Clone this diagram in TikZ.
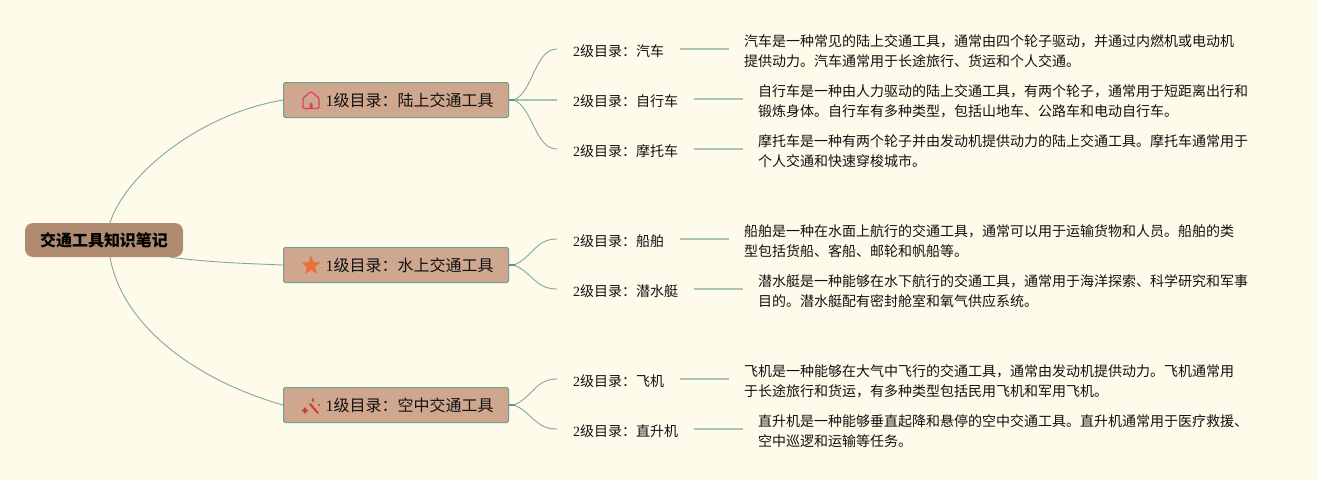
\documentclass[tikz,border=0pt]{standalone}
\usepackage{fontspec}
\usetikzlibrary{calc}
\setmainfont{Liberation Serif}
\newfontfamily\cjk{Noto Sans CJK SC}
\definecolor{bgc}{HTML}{FFFBEA}
\definecolor{rootc}{HTML}{B08B72}
\definecolor{lonec}{HTML}{CFA78E}
\definecolor{edgec}{HTML}{6F9F8B}
\definecolor{linec}{HTML}{7FAB96}
\definecolor{stemc}{HTML}{A9C5B2}
\definecolor{stubc}{HTML}{5F9A88}
\definecolor{txtc}{HTML}{111111}
\definecolor{housec}{HTML}{E0405E}
\definecolor{starc}{HTML}{E9703A}
\definecolor{wandc}{HTML}{D63A2C}
\newcommand{\lone}[1]{\hspace*{27pt}{\fontsize{16}{20}\selectfont 1\cjk 级目录：#1}}
\newcommand{\ltwo}[1]{{\fontsize{14}{20}\selectfont 2\cjk 级目录：#1}}
\tikzset{
  rootbox/.style={draw=none,fill=rootc,rounded corners=8pt,minimum width=158pt,minimum height=34pt,inner sep=0pt,font=\fontsize{16}{20}\selectfont\cjk\bfseries,text=black},
  lonebox/.style={draw=edgec,line width=1pt,fill=lonec,rounded corners=1.5pt,minimum width=225pt,minimum height=35pt,inner xsep=15pt,inner ysep=0pt,anchor=west,text=txtc},
  ltwobox/.style={inner xsep=16pt,inner ysep=0pt,anchor=west,text=txtc},
  descbox/.style={inner xsep=15pt,inner ysep=0pt,anchor=west,align=left,text=txtc,font=\fontsize{14}{20}\selectfont\cjk},
  curve/.style={draw=linec,line width=0.9pt},
  stem/.style={draw=stemc,line width=1.5pt},
  stub/.style={draw=stubc,line width=2pt},
}
\begin{document}
\begin{tikzpicture}[x=1pt,y=-1pt]
\useasboundingbox (0,0) rectangle (1318,480);
\fill[bgc] (0,0) rectangle (1318,480);
% root and level 1
\node[rootbox] (root) at (104,240) {交通工具知识笔记};
\node[lonebox] (a) at (283,100) {\lone{陆上交通工具}};
\node[lonebox] (b) at (283,265) {\lone{水上交通工具}};
\node[lonebox] (c) at (283,405) {\lone{空中交通工具}};
% level 2
\node[ltwobox] (a1) at (557,51) {\ltwo{汽车}};
\node[ltwobox] (a2) at (557,101) {\ltwo{自行车}};
\node[ltwobox] (a3) at (557,151) {\ltwo{摩托车}};
\node[ltwobox] (b1) at (557,241) {\ltwo{船舶}};
\node[ltwobox] (b2) at (557,291) {\ltwo{潜水艇}};
\node[ltwobox] (c1) at (557,381) {\ltwo{飞机}};
\node[ltwobox] (c2) at (557,431) {\ltwo{直升机}};
% descriptions
\node[descbox] (a1d) at (729,51) {汽车是一种常见的陆上交通工具，通常由四个轮子驱动，并通过内燃机或电动机\\提供动力。汽车通常用于长途旅行、货运和个人交通。};
\node[descbox] (a2d) at (743,101) {自行车是一种由人力驱动的陆上交通工具，有两个轮子，通常用于短距离出行和\\锻炼身体。自行车有多种类型，包括山地车、公路车和电动自行车。};
\node[descbox] (a3d) at (743,151) {摩托车是一种有两个轮子并由发动机提供动力的陆上交通工具。摩托车通常用于\\个人交通和快速穿梭城市。};
\node[descbox] (b1d) at (729,241) {船舶是一种在水面上航行的交通工具，通常可以用于运输货物和人员。船舶的类\\型包括货船、客船、邮轮和帆船等。};
\node[descbox] (b2d) at (743,291) {潜水艇是一种能够在水下航行的交通工具，通常用于海洋探索、科学研究和军事\\目的。潜水艇配有密封舱室和氧气供应系统。};
\node[descbox] (c1d) at (729,381) {飞机是一种能够在大气中飞行的交通工具，通常由发动机提供动力。飞机通常用\\于长途旅行和货运，有多种类型包括民用飞机和军用飞机。};
\node[descbox] (c2d) at (743,431) {直升机是一种能够垂直起降和悬停的空中交通工具。直升机通常用于医疗救援、\\空中巡逻和运输等任务。};
% root connectors
\draw[curve] ([xshift=6pt]root.north) .. controls +(14,-45) and +(-88,15) .. (a.west);
\draw[curve] ([xshift=66pt]root.south) .. controls +(40,5) and +(-50,-2) .. (b.west);
\draw[curve] ([xshift=6pt]root.south) .. controls +(12,68) and +(-88,-25) .. (c.west);
% level 1 to level 2
\draw[stem] (a.east) -- (a.east -| a2.west);
\foreach \p/\k/\s in {a/a1/-8,a/a3/8,b/b1/-8,b/b2/8,c/c1/-8,c/c2/8}{
  \draw[curve] ([xshift=5pt]\p.east) .. controls +(19,\s) and +(-22,0) .. ([yshift=2pt]\k.west);
  \draw[stub] (\p.east) -- ++(6,0);
}
% level 2 to description
\foreach \k in {a1,a2,a3,b1,b2,c1,c2}{
  \draw[stem] ([yshift=2pt]\k.east) -- ([yshift=2pt]\k d.west);
}
% house icon
\draw[housec,line width=1.2pt,rounded corners=1.2pt,line join=round]
  (303,108.5) -- (303,98) -- (311,91.5) -- (319,98) -- (319,108.5) -- cycle;
\fill[housec] (309.5,108) -- (309.5,104) arc[start angle=180,end angle=0,radius=1.5pt] -- (312.5,108) -- cycle;
% star icon
\fill[starc] (311,255.5)
  -- (313.6,262.1) -- (320.2,262.5) -- (315.2,266.9) -- (316.8,274.1)
  -- (311,270.1) -- (305.2,274.1) -- (306.8,266.9) -- (301.8,262.5) -- (308.4,262.1) -- cycle;
% wand icon
\draw[wandc,line width=2pt,line cap=round] (310,404) -- (318,413);
\fill[wandc] (305,407) -- (306.4,409.1) -- (308.5,410.5) -- (306.4,411.9) -- (305,414) -- (303.6,411.9) -- (301.5,410.5) -- (303.6,409.1) -- cycle;
\fill[wandc] (313,397.5) -- (314.2,400) -- (313,402.5) -- (311.8,400) -- cycle;
\fill[wandc] (319,405) circle[radius=1.1pt];
\end{tikzpicture}
\end{document}
